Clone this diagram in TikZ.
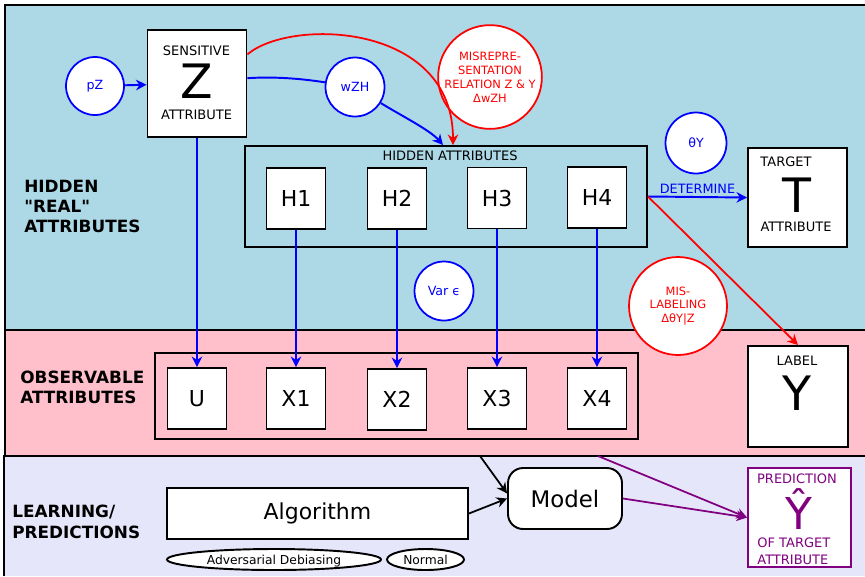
\documentclass[tikz,border=0pt]{standalone}
\usepackage{fontspec}
\setmainfont{DejaVu Sans}
\usetikzlibrary{arrows.meta,shapes.geometric}
\definecolor{hiddenbg}{RGB}{173,216,230}
\definecolor{observbg}{RGB}{255,192,203}
\definecolor{learnbg}{RGB}{230,230,250}
\definecolor{flawred}{RGB}{255,0,0}
\definecolor{predpurple}{RGB}{128,0,128}
\tikzset{
  band/.style={draw, line width=1.4pt},
  box/.style={draw, fill=white, line width=1.1pt, inner sep=0pt},
  group/.style={draw, line width=1.1pt, inner sep=0pt},
  attr/.style={box, minimum width=1.18cm, minimum height=1.22cm, font=\fontsize{12.5}{15}\selectfont},
  param/.style={circle, draw=blue, fill=white, line width=1pt, text=blue, inner sep=0pt, align=center, font=\fontsize{7.2}{9}\selectfont},
  flaw/.style={circle, draw=flawred, fill=white, line width=1pt, text=flawred, inner sep=0pt, align=center, font=\fontsize{6.5}{7.9}\selectfont},
  variant/.style={ellipse, draw, fill=white, line width=1.1pt, inner sep=0pt, minimum height=0.42cm, text depth=0pt, font=\fontsize{7}{8}\selectfont},
  small/.style={font=\fontsize{7.4}{9}\selectfont, inner sep=0pt},
  huge/.style={font=\fontsize{27}{30}\selectfont, inner sep=0pt},
  region/.style={font=\bfseries\fontsize{9.6}{11.6}\selectfont, align=left, anchor=west, inner sep=0pt},
  link/.style={-{Stealth[length=6pt,width=6pt]}, blue, line width=1.1pt},
  flawlink/.style={-{Stealth[length=6pt,width=6pt]}, flawred, line width=1pt},
  learnlink/.style={-{Stealth[length=6pt,width=6pt]}, line width=1pt},
  predlink/.style={-{Stealth[length=6pt,width=6pt]}, predpurple, line width=1pt}
}
\begin{document}
\begin{tikzpicture}[x=0.02cm, y=-0.02cm]
  \useasboundingbox (0,0) rectangle (865,576);
  % bands
  \draw[band, fill=hiddenbg] (865,5) -- (5,5) -- (5,330) -- (865,330);
  \draw[band, fill=observbg] (865,330) -- (5,330) -- (5,456) -- (865,456);
  \fill[learnbg] (4,456) rectangle (865,576);
  \draw[band] (865,456) -- (4,456) -- (4,576);
  \node[region] at (24,206.5) {HIDDEN\\\textquotedbl REAL\textquotedbl\\ATTRIBUTES};
  \node[region] at (20,387.5) {OBSERVABLE\\ATTRIBUTES};
  \node[region] at (12,522) {LEARNING/\\PREDICTIONS};

  % hidden attributes
  \node[box, minimum width=1.98cm, minimum height=2.14cm] (zbox) at (197,83.5) {};
  \node[small] at (196.5,51) {SENSITIVE};
  \node[huge] at (196.5,81) {Z};
  \node[small] at (196.5,115) {ATTRIBUTE};
  \node[param, minimum size=1.16cm] (pz) at (95,86) {pZ};
  \node[param, minimum size=1.18cm] (wzh) at (355,87) {wZH};
  \node[flaw, minimum size=1.96cm] (misrep) at (490,77) {MISREPRE-\\SENTATION\\RELATION Z \& Y\\ΔwZH};

  \node[group, minimum width=8.04cm, minimum height=2.02cm] (hidden) at (446,196.5) {};
  \node[small] at (450,156) {HIDDEN ATTRIBUTES};
  \node[attr] (h1) at (296,198.5) {H1};
  \node[attr] (h2) at (397,198.5) {H2};
  \node[attr] (h3) at (497,198) {H3};
  \node[attr] (h4) at (597,197.5) {H4};

  \node[param, minimum size=1.22cm] (thetay) at (696,143) {θY};
  \node[box, minimum width=1.98cm, minimum height=1.98cm] (tbox) at (797.5,197.5) {};
  \node[small] at (786,162) {TARGET};
  \node[huge] at (797,195) {T};
  \node[small] at (796,226.5) {ATTRIBUTE};

  \node[param, minimum size=1.18cm] (vareps) at (444,291) {Var ϵ};
  \node[flaw, minimum size=1.96cm] (mislabel) at (678,306) {MIS-\\LABELING\\ΔθY|Z};

  % observable attributes
  \node[group, minimum width=9.66cm, minimum height=1.72cm] (observed) at (396.5,396) {};
  \node[attr] (ubox) at (197,398.5) {U};
  \node[attr] (x1) at (296,398.5) {X1};
  \node[attr] (x2) at (397,399.5) {X2};
  \node[attr] (x3) at (497,398.5) {X3};
  \node[attr] (x4) at (597,398.5) {X4};

  \node[box, minimum width=2cm, minimum height=2.02cm] (ybox) at (798,396.5) {};
  \node[small] at (797,360.5) {LABEL};
  \node[huge] at (797,393) {Y};

  % learning
  \node[box, minimum width=6.02cm, minimum height=1.02cm, font=\fontsize{12.5}{15}\selectfont] (algo) at (317.5,513.5) {Algorithm};
  \node[variant, minimum width=4.28cm] (adv) at (274,559.5) {Adversarial Debiasing};
  \node[variant, minimum width=1.54cm] (normal) at (425.5,559.5) {Normal};
  \node[box, rounded corners=0.3cm, minimum width=2.28cm, minimum height=1.22cm, font=\fontsize{13}{15}\selectfont] (model) at (565,498.5) {Model};

  \node[draw=predpurple, fill=white, line width=1.1pt, minimum width=2.06cm, minimum height=1.98cm] (pred) at (799.5,517.5) {};
  \node[small, text=predpurple] at (797,479) {PREDICTION};
  \node[huge, text=predpurple, font=\fontsize{25}{28}\selectfont] at (799,509) {Ŷ};
  \node[small, text=predpurple, anchor=west] at (757,543) {OF TARGET};
  \node[small, text=predpurple, anchor=west] at (757,559.5) {ATTRIBUTE};

  \coordinate (obsout) at (480,456);
  \coordinate (obsout2) at (598,456);

  % connectors
  \draw[link] (pz) -- (zbox);
  \draw[blue, line width=1.1pt] (zbox.6) .. controls (280,76) and (310,80) .. (wzh);
  \draw[link] (wzh) .. controls (400,115) and (430,130) .. ([xshift=-0.06cm]hidden.north);
  \draw[flawlink] (zbox.30) .. controls (290,18) and (453,22) .. ([xshift=0.14cm]hidden.north);
  \draw[link] (hidden.east) -- (tbox.west) node[midway, above, text=blue, font=\fontsize{7.3}{9}\selectfont, inner sep=1.5pt] {DETERMINE};
  \draw[flawlink] (hidden.east) -- (ybox.north);
  \draw[link] (zbox.south) -- (ubox.north);
  \draw[link] (h1.south) -- (x1.north);
  \draw[link] (h2.south) -- (x2.north);
  \draw[link] (h3.south) -- (x3.north);
  \draw[link] (h4.south) -- (x4.north);
  \draw[learnlink] (algo.east) -- (model.west);
  \draw[learnlink] (obsout) -- (model.175);
  \draw[predlink] (obsout2) -- (pred.west);
  \draw[predlink] (model.east) -- (pred.west);
\end{tikzpicture}
\end{document}
